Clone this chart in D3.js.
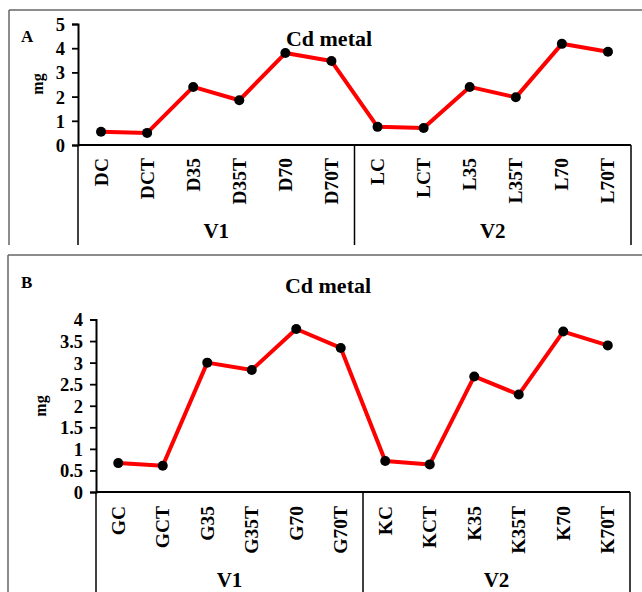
<!DOCTYPE html>
<html>
<head>
<meta charset="utf-8">
<script src="https://cdn.jsdelivr.net/npm/d3@7"></script>
<style>
  html, body { margin: 0; padding: 0; background: #fff; }
  svg { display: block; }
  text { font-family: "Liberation Serif", "Times New Roman", serif; font-weight: bold; fill: #000; }
</style>
</head>
<body>
<svg id="chart" width="642" height="592"></svg>
<script>
// ---- data ----
const categoriesA = ["DC","DCT","D35","D35T","D70","D70T","LC","LCT","L35","L35T","L70","L70T"];
const valuesA     = [0.55, 0.50, 2.40, 1.85, 3.80, 3.47, 0.75, 0.70, 2.40, 1.97, 4.18, 3.85];
const ticksA      = [0, 1, 2, 3, 4, 5];

const categoriesB = ["GC","GCT","G35","G35T","G70","G70T","KC","KCT","K35","K35T","K70","K70T"];
const valuesB     = [0.67, 0.61, 3.00, 2.83, 3.78, 3.34, 0.72, 0.64, 2.68, 2.26, 3.72, 3.40];
const ticksB      = [0, 0.5, 1, 1.5, 2, 2.5, 3, 3.5, 4];

const groups      = ["V1", "V2"];
const groupSize   = 6;
const titleText   = "Cd metal";
const yLabelText  = "mg";

const svg = d3.select("#chart");

// panel frames
function frame(x0, y0, x1, y1, sides) {
  const g = svg.append("g").attr("stroke", "#666").attr("stroke-width", 1.5).attr("fill", "none");
  if (sides.includes("t")) g.append("line").attr("x1", x0).attr("x2", x1).attr("y1", y0).attr("y2", y0);
  if (sides.includes("l")) g.append("line").attr("x1", x0).attr("x2", x0).attr("y1", y0).attr("y2", y1);
}
frame(9, 10, 642, 245, "tl");
frame(8, 255, 642, 592, "tl");

function drawPanel(cfg) {
  const g = svg.append("g");
  const x = d3.scaleBand().domain(cfg.cats).range([cfg.x0, cfg.x1]).padding(0);
  const y = d3.scaleLinear().domain([0, cfg.ymax]).range([cfg.yBase, cfg.yTop]);

  // y axis
  const yAxis = d3.axisLeft(y).tickValues(cfg.ticks).tickSize(6).tickPadding(7)
    .tickFormat(d3.format("~g"));
  const ya = g.append("g").attr("transform", `translate(${cfg.x0},0)`).call(yAxis);
  ya.select(".domain").attr("stroke", "#000").attr("stroke-width", 2);
  ya.selectAll(".tick line").attr("stroke", "#000").attr("stroke-width", 1.8);
  ya.selectAll(".tick text").style("font-size", "18.5px")
    .style("font-family", '"Liberation Serif", serif').style("font-weight", "bold")
    .attr("dy", "0.35em");

  // x axis line
  g.append("line").attr("x1", cfg.x0).attr("x2", cfg.x1)
    .attr("y1", cfg.yBase).attr("y2", cfg.yBase)
    .attr("stroke", "#000").attr("stroke-width", 2);

  // group separators
  const bw = x.bandwidth();
  const seps = [cfg.x0];
  groups.forEach((gname, i) => seps.push(x(cfg.cats[(i + 1) * groupSize - 1]) + bw));
  g.selectAll(".sep").data(seps).enter().append("line")
    .attr("x1", d => d).attr("x2", d => d)
    .attr("y1", cfg.yBase).attr("y2", cfg.sepBottom)
    .attr("stroke", "#000").attr("stroke-width", 1.5);

  // category labels
  g.selectAll(".cat").data(cfg.cats).enter().append("text")
    .attr("transform", d => `translate(${x(d) + bw / 2 + 6.5},${cfg.yBase + cfg.catGap}) rotate(-90)`)
    .attr("text-anchor", "end")
    .style("font-size", "19.5px")
    .text(d => d);

  // group labels
  g.selectAll(".grp").data(groups).enter().append("text")
    .attr("x", (d, i) => (seps[i] + seps[i + 1]) / 2)
    .attr("y", cfg.groupY)
    .attr("text-anchor", "middle")
    .style("font-size", "21px")
    .text(d => d);

  // line + markers
  const line = d3.line().x((d, i) => x(cfg.cats[i]) + bw / 2).y(d => y(d));
  g.append("path").datum(cfg.vals).attr("d", line)
    .attr("fill", "none").attr("stroke", "#ff0000").attr("stroke-width", 4)
    .attr("stroke-linejoin", "round");
  g.selectAll(".pt").data(cfg.vals).enter().append("circle")
    .attr("cx", (d, i) => x(cfg.cats[i]) + bw / 2)
    .attr("cy", d => y(d))
    .attr("r", 5).attr("fill", "#000");

  // title
  g.append("text").attr("x", cfg.titleX).attr("y", cfg.titleY)
    .attr("text-anchor", "middle").style("font-size", "22px").text(titleText);

  // panel letter
  g.append("text").attr("x", 21).attr("y", cfg.letterY)
    .style("font-size", "17px").text(cfg.letter);

  // y label
  g.append("text")
    .attr("transform", `translate(${cfg.ylabX},${cfg.ylabY}) rotate(-90)`)
    .attr("text-anchor", "middle").style("font-size", "16px").text(yLabelText);
}

drawPanel({
  cats: categoriesA, vals: valuesA, ticks: ticksA, ymax: 5,
  x0: 78, x1: 631, yBase: 145, yTop: 24,
  sepBottom: 245, catGap: 13, groupY: 238,
  titleX: 329, titleY: 46, letter: "A", letterY: 42,
  ylabX: 43, ylabY: 84
});

drawPanel({
  cats: categoriesB, vals: valuesB, ticks: ticksB, ymax: 4,
  x0: 96, x1: 630, yBase: 492, yTop: 319.5,
  sepBottom: 592, catGap: 14, groupY: 587,
  titleX: 328, titleY: 293, letter: "B", letterY: 288,
  ylabX: 46, ylabY: 406
});
</script>
</body>
</html>
